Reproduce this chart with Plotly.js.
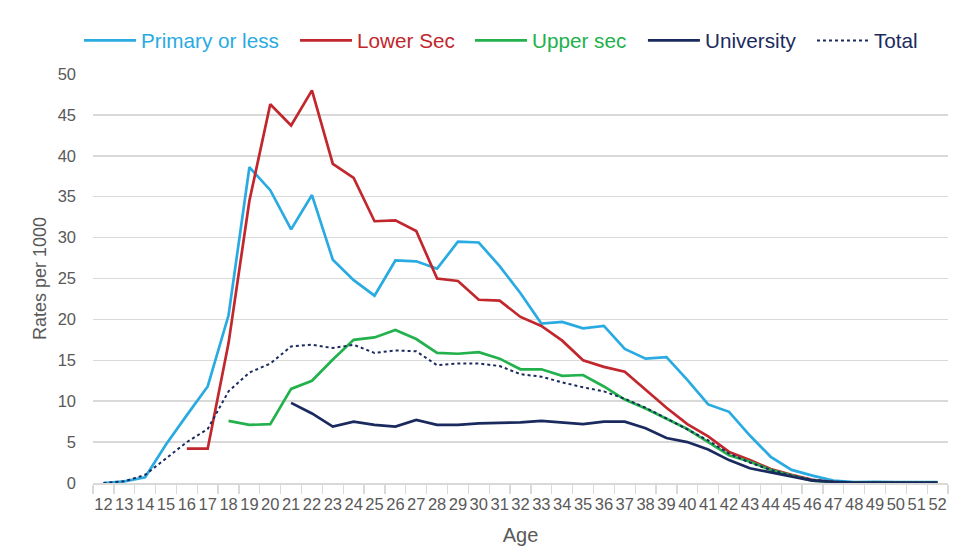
<!DOCTYPE html>
<html>
<head>
<meta charset="utf-8">
<script src="https://cdn.plot.ly/plotly-3.0.1.min.js"></script>
<style>html,body{margin:0;padding:0;background:#fff;}#chart{width:963px;height:550px;}</style>
</head>
<body>
<div id="chart"></div>
<script>
const ages = ["12","13","14","15","16","17","18","19","20","21","22","23","24","25","26","27","28","29","30","31","32","33","34","35","36","37","38","39","40","41","42","43","44","45","46","47","48","49","50","51","52"];

const primaryOrLess = [0,0.2,0.7,4.7,8.3,11.8,20.5,38.6,35.8,31.0,35.2,27.3,24.8,22.9,27.2,27.1,26.2,29.5,29.4,26.5,23.2,19.5,19.7,18.9,19.2,16.4,15.2,15.4,12.6,9.6,8.7,5.8,3.2,1.6,0.9,0.3,0.1,0.15,0.1,0.1,0.1];
const lowerSec = [null,null,null,null,4.2,4.2,17.1,34.5,46.3,43.7,48.0,39.0,37.3,32.0,32.1,30.8,25.0,24.7,22.4,22.3,20.3,19.2,17.4,15.0,14.2,13.6,11.4,9.2,7.2,5.7,3.8,2.8,1.7,1.0,0.4,0.1,0.05,0.05,0.05,0.05,0.05];
const upperSec = [null,null,null,null,null,null,7.6,7.1,7.2,11.5,12.5,15.1,17.5,17.8,18.7,17.6,15.9,15.8,16.0,15.2,13.9,13.9,13.1,13.2,11.8,10.2,9.1,7.9,6.6,5.0,3.4,2.6,1.6,0.9,0.3,0.1,0.05,0.05,0.05,0.05,0.05];
const university = [null,null,null,null,null,null,null,null,null,9.8,8.5,6.9,7.5,7.1,6.9,7.7,7.1,7.1,7.3,7.35,7.4,7.6,7.4,7.2,7.5,7.5,6.7,5.5,5.0,4.1,2.8,1.8,1.3,0.8,0.3,0.15,0.05,0.05,0.05,0.05,0.05];
const total = [0,0.2,1.0,3.0,5.0,6.6,11.2,13.5,14.6,16.7,16.9,16.5,16.9,15.9,16.2,16.1,14.4,14.6,14.6,14.3,13.3,13.0,12.3,11.7,11.2,10.3,9.2,7.9,6.5,5.2,3.6,2.5,1.6,0.9,0.4,0.15,0.05,0.05,0.05,0.05,0.05];

const seriesNames = ["Primary or less","Lower Sec","Upper sec","University","Total"];
const seriesColors = ["#29ABE2","#C1272D","#22B14C","#1B2A5E","#1B2A5E"];
const seriesData = [primaryOrLess, lowerSec, upperSec, university, total];

const legendIds = ['legend','legend2','legend3','legend4','legend5'];
// paper-x of each legend entry (one legend per series, laid out in a row)
const legendX = [-0.0164, 0.2363, 0.4409, 0.6432, 0.8409];

const traces = seriesData.map((d, i) => ({
  x: ages,
  y: d,
  type: 'scatter',
  mode: 'lines',
  name: seriesNames[i],
  legend: legendIds[i],
  line: {color: seriesColors[i], width: i === 4 ? 2 : 2.7, dash: i === 4 ? 'dot' : 'solid'},
  connectgaps: false,
  hoverinfo: 'x+y'
}));

const font = "Liberation Sans, Arial, sans-serif";
const layout = {
  width: 963,
  height: 550,
  margin: {l: 93, r: 15, t: 74, b: 67},
  paper_bgcolor: '#ffffff',
  plot_bgcolor: '#ffffff',
  font: {family: font, color: '#595959', size: 16},
  showlegend: true,
  xaxis: {
    type: 'category',
    range: [-0.5, 40.5],
    tickson: 'boundaries',
    ticks: 'outside',
    ticklen: 9,
    tickwidth: 1.3,
    tickcolor: '#d9d9d9',
    showline: true,
    linecolor: '#d9d9d9',
    linewidth: 1.5,
    showgrid: false,
    tickangle: 0,
    ticklabelstandoff: 6,
    tickfont: {family: font, size: 16.5, color: '#595959'},
    title: {text: 'Age', font: {family: font, size: 20, color: '#595959'}, standoff: 15}
  },
  yaxis: {
    range: [0, 50],
    tickmode: 'linear',
    tick0: 0,
    dtick: 5,
    showgrid: true,
    gridcolor: '#d9d9d9',
    gridwidth: 1.5,
    zeroline: false,
    showline: false,
    ticks: '',
    ticklabelstandoff: 16,
    tickfont: {family: font, size: 16.5, color: '#595959'},
    title: {text: 'Rates per 1000', font: {family: font, size: 18, color: '#595959'}, standoff: 6}
  }
};

legendIds.forEach((id, i) => {
  layout[id] = {
    orientation: 'h',
    x: legendX[i], xanchor: 'left',
    y: 1.082, yanchor: 'middle',
    font: {family: font, size: 20.7, color: seriesColors[i]},
    itemwidth: 52,
    bgcolor: 'rgba(0,0,0,0)'
  };
});

Plotly.newPlot('chart', traces, layout, {displayModeBar: false, staticPlot: true});
</script>
</body>
</html>
